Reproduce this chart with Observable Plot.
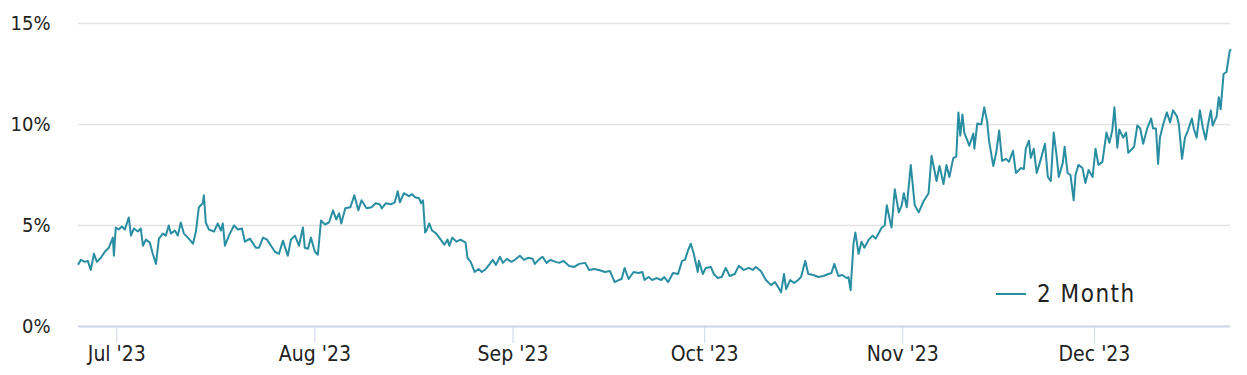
<!DOCTYPE html>
<html>
<head>
<meta charset="utf-8">
<script src="https://cdn.jsdelivr.net/npm/d3@7"></script>
<script src="https://cdn.jsdelivr.net/npm/@observablehq/plot@0.6"></script>
<style>
  html, body { margin: 0; padding: 0; background: #fff; }
  #wrap { position: relative; width: 1247px; height: 375px; }
  #legend { position: absolute; left: 996px; top: 280px; display: flex; align-items: center;
    font-family: "DejaVu Sans Condensed", "DejaVu Sans", sans-serif; font-size: 24px; color: #222; letter-spacing: 1.5px; }
  #legend .sw { display: inline-block; width: 30px; height: 2px; background: #2a8ea3; margin-right: 11px; }
</style>
</head>
<body>
<div id="wrap"><div id="chart"></div><div id="legend"><span class="sw"></span><span>2 Month</span></div></div>
<script>
const seriesName = "2 Month";
const dates = [
"06-25 00","06-25 09","06-26 00","06-26 11","06-26 22","06-27 10","06-27 21","06-28 12","06-29 03","06-29 18",
"06-30 09","06-30 13","06-30 20","07-01 07","07-01 19","07-02 06","07-02 21","07-03 05","07-03 16","07-04 07",
"07-04 18","07-05 02","07-05 13","07-06 04","07-06 15","07-07 03","07-07 14","07-08 05","07-08 16","07-09 03",
"07-09 11","07-10 02","07-10 13","07-11 00","07-11 12","07-12 03","07-12 22","07-13 09","07-13 20","07-14 11",
"07-14 15","07-14 22","07-15 10","07-16 05","07-16 19","07-17 07","07-17 14","07-17 22","07-18 13","07-19 08",
"07-19 23","07-20 14","07-21 01","07-21 20","07-22 18","07-23 06","07-23 21","07-24 12","07-25 03","07-25 18",
"07-26 09","07-27 00","07-27 18","07-28 06","07-28 21","07-29 12","07-30 03","07-30 10","07-30 22","07-31 09",
"08-01 00","08-01 11","08-01 23","08-02 14","08-03 05","08-03 20","08-04 08","08-04 19","08-05 03","08-05 18",
"08-06 13","08-07 04","08-07 19","08-08 07","08-09 02","08-09 21","08-10 12","08-11 03","08-11 11","08-12 02",
"08-12 21","08-13 12","08-13 23","08-14 07","08-14 22","08-15 17","08-16 05","08-16 16","08-17 07","08-17 15",
"08-17 22","08-18 06","08-18 13","08-18 21","08-19 08","08-20 00","08-20 11","08-21 06","08-21 18","08-22 01",
"08-22 12","08-23 04","08-23 19","08-24 14","08-24 21","08-25 09","08-26 00","08-26 15","08-27 03","08-27 18",
"08-28 09","08-28 20","08-29 08","08-29 23","08-30 10","08-31 01","08-31 17","09-01 07","09-02 02","09-02 17",
"09-03 08","09-04 02","09-04 10","09-05 00","09-05 15","09-06 06","09-06 21","09-07 16","09-08 06","09-08 21",
"09-09 19","09-10 14","09-11 09","09-12 07","09-12 22","09-13 16","09-14 11","09-15 09","09-16 04","09-16 22",
"09-17 13","09-18 00","09-18 11","09-19 02","09-19 21","09-20 15","09-21 06","09-21 14","09-22 05","09-22 19",
"09-23 10","09-24 05","09-24 16","09-25 07","09-26 01","09-26 20","09-27 11","09-27 22","09-28 09","09-28 20",
"09-29 07","09-29 22","09-30 02","09-30 17","10-01 04","10-01 23","10-02 10","10-03 01","10-03 16","10-04 07",
"10-04 22","10-05 17","10-06 08","10-07 03","10-07 22","10-08 13","10-09 00","10-09 19","10-10 14","10-11 09",
"10-12 00","10-12 12","10-12 23","10-13 10","10-13 18","10-14 09","10-15 00","10-15 15","10-16 02","10-16 18",
"10-17 05","10-18 00","10-18 19","10-19 14","10-20 09","10-20 20","10-21 07","10-21 22","10-22 13","10-23 05",
"10-23 12","10-23 20","10-24 07","10-24 14","10-25 02","10-25 13","10-26 00","10-26 16","10-27 07","10-27 18",
"10-28 05","10-28 17","10-29 04","10-29 12","10-29 23","10-30 06","10-30 18","10-31 09","10-31 20","11-01 04",
"11-01 15","11-02 06","11-02 21","11-03 12","11-04 06","11-05 01","11-05 12","11-06 07","11-06 18","11-07 09",
"11-07 20","11-08 07","11-08 22","11-09 09","11-09 17","11-10 00","11-10 08","11-10 15","11-11 10","11-12 01",
"11-12 05","11-12 16","11-13 07","11-13 18","11-14 05","11-14 12","11-15 04","11-15 15","11-16 02","11-16 13",
"11-17 04","11-17 15","11-18 06","11-18 17","11-19 12","11-19 23","11-20 06","11-20 18","11-21 01","11-21 12",
"11-21 23","11-22 14","11-23 06","11-23 17","11-24 04","11-24 15","11-25 02","11-25 10","11-26 01","11-26 08",
"11-26 19","11-27 06","11-27 18","11-28 01","11-28 12","11-29 03","11-29 14","11-30 02","11-30 17","12-01 04",
"12-01 15","12-02 06","12-02 21","12-03 08","12-03 19","12-04 03","12-04 14","12-04 21","12-05 12","12-05 23",
"12-06 07","12-06 22","12-07 05","12-07 17","12-08 04","12-08 15","12-09 06","12-09 21","12-10 04","12-10 15",
"12-10 23","12-11 06","12-11 18","12-12 08","12-12 20","12-13 07","12-13 22","12-14 05","12-14 17","12-15 04",
"12-15 15","12-16 06","12-16 13","12-17 00","12-17 12","12-17 23","12-18 10","12-18 18","12-19 05","12-19 12",
"12-20 03","12-20 11","12-20 18","12-21 05","12-21 16","12-22 04","12-22 07"
];
const values = [
3.1,3.3,3.2,3.25,2.8,3.6,3.2,3.4,3.7,3.9,
4.4,3.5,4.9,4.8,4.95,4.8,5.4,4.5,4.85,4.7,
4.85,4.0,4.3,4.15,3.6,3.1,4.35,4.6,4.5,5.0,
4.6,4.75,4.5,5.15,4.6,4.4,4.1,4.7,5.9,6.1,
6.5,5.15,4.8,4.7,5.1,4.75,5.1,4.0,4.5,5.0,
4.8,4.85,4.2,4.35,3.9,3.9,4.4,4.3,4.0,3.7,
3.6,4.25,3.5,4.3,4.5,4.0,4.9,3.9,3.85,4.4,
3.7,3.55,5.25,5.05,5.15,5.75,5.3,5.6,5.1,5.85,
5.9,6.5,5.75,6.25,5.85,5.9,6.1,6.05,5.85,6.1,
6.05,6.15,6.7,6.15,6.6,6.45,6.55,6.4,6.35,6.1,
6.25,4.65,4.8,5.1,4.75,4.6,4.4,4.05,4.3,4.0,
4.4,4.2,4.3,4.15,3.4,3.2,2.7,2.85,2.7,2.85,
3.1,3.3,3.05,3.45,3.15,3.35,3.2,3.3,3.5,3.3,
3.4,3.35,3.1,3.3,3.45,3.15,3.3,3.2,3.15,3.25,
3.0,2.95,3.1,3.15,2.8,2.85,2.8,2.7,2.75,2.2,
2.3,2.35,2.9,2.35,2.7,2.65,2.7,2.3,2.45,2.3,
2.4,2.3,2.45,2.2,2.65,2.6,3.25,3.3,3.75,4.1,
3.6,2.7,3.25,2.6,2.9,2.95,2.6,2.4,2.45,2.9,
2.5,2.6,3.0,2.8,2.9,2.8,2.95,2.75,2.3,2.05,
2.2,1.95,1.7,2.6,1.85,2.3,2.15,2.3,2.45,3.25,
2.6,2.55,2.45,2.5,2.6,2.65,3.1,2.5,2.55,2.4,
2.45,1.8,4.1,4.65,3.6,4.2,3.9,4.3,4.5,4.35,
4.6,4.9,5.0,6.0,5.3,4.9,6.8,5.65,6.0,6.6,
5.9,8.0,6.0,5.65,6.2,6.6,8.45,7.2,7.95,7.05,
8.0,7.4,8.35,8.4,10.6,9.45,10.5,9.6,8.95,9.55,
8.8,10.05,10.0,10.85,10.15,9.2,7.95,8.6,9.7,8.2,
8.3,8.15,8.7,7.6,7.85,7.8,8.8,9.2,8.35,8.8,
7.6,8.25,9.05,7.4,7.2,9.6,8.45,7.4,8.1,8.9,
7.6,7.5,6.25,7.5,8.0,7.85,7.1,7.75,7.4,8.8,
8.0,8.15,9.6,9.1,9.7,10.85,8.85,9.75,9.35,9.6,
8.6,8.8,8.9,9.95,9.8,9.05,9.8,10.3,9.8,9.8,
8.05,9.35,10.0,10.6,10.1,10.7,10.4,10.0,8.3,9.35,
9.7,10.3,9.8,9.35,10.7,9.85,9.25,9.95,10.7,9.95,
10.4,11.35,10.75,12.5,12.6,13.65,13.7
];
const yTicks = [0, 5, 10, 15];
const monthTicks = ["2023-07-01","2023-08-01","2023-09-01","2023-10-01","2023-11-01","2023-12-01"];

const parse = d3.utcParse("%Y-%m-%d %H");
const data = dates.map((d, i) => ({date: parse("2023-" + d), value: values[i], series: seriesName}));
const tickDates = monthTicks.map(d => d3.utcParse("%Y-%m-%d")(d));
const font = "'DejaVu Sans Condensed', 'DejaVu Sans', sans-serif";

const chart = Plot.plot({
  width: 1247,
  height: 375,
  marginLeft: 78,
  marginRight: 17,
  marginTop: 23,
  marginBottom: 49,
  style: {fontFamily: font, fontSize: "20px", color: "#222", background: "#fff"},
  x: {type: "utc", domain: d3.extent(data, d => d.date)},
  y: {domain: [0, 15]},
  marks: [
    Plot.gridY(yTicks, {stroke: "#e3e3e3", strokeOpacity: 1, strokeWidth: 1.6}),
    Plot.axisY(yTicks, {tickSize: 0, tickPadding: 28, tickFormat: d => d + "%", label: null, fontSize: 20, fill: "#222"}),
    Plot.axisX(tickDates, {tickSize: 17, tickPadding: 3, stroke: "#ccd6eb", strokeOpacity: 1, tickFormat: d3.utcFormat("%b '%y"), label: null, fontSize: 21, fill: "#222", letterSpacing: 0.8}),
    Plot.ruleY([0], {stroke: "#ccd6eb", strokeWidth: 2}),
    Plot.lineY(data, {x: "date", y: "value", stroke: "#2a8ea3", strokeWidth: 2})
  ]
});
document.getElementById("chart").appendChild(chart);
</script>
</body>
</html>
